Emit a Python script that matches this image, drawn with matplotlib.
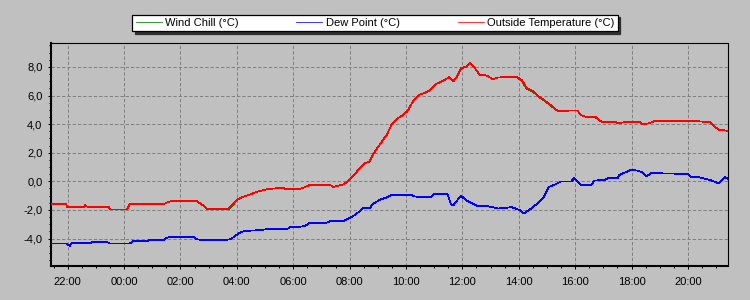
import matplotlib
matplotlib.use("Agg")
import matplotlib.pyplot as plt
from matplotlib.ticker import MultipleLocator, FixedLocator, FixedFormatter, FuncFormatter

plt.rcParams['font.family'] = ['Liberation Sans', 'DejaVu Sans']
plt.rcParams['font.size'] = 8

# ---- data (hours relative to midnight) ----
temp_t = [-2.62, -2.05, -2.03, -1.4, -1.38, -1.3, -0.55, -0.5, 0.1, 0.2, 1.4, 1.55, 1.75,
          2.55, 2.75, 2.95, 3.7, 3.9, 4.0, 4.23, 4.47, 4.7, 5.06, 5.3, 5.65, 5.75, 6.2, 6.36,
          6.59, 7.3, 7.42, 7.6, 7.76, 7.94, 8.12, 8.36, 8.54, 8.69, 8.84, 9.08, 9.32, 9.5,
          9.68, 9.86, 10.04, 10.28, 10.46, 10.69, 10.87, 11.05, 11.29, 11.53, 11.68, 11.83,
          11.95, 12.13, 12.28, 12.43, 12.61, 12.85, 13.09, 13.27, 13.51, 13.93, 14.1, 14.29,
          14.5, 14.71, 14.89, 15.13, 15.37, 15.6, 15.79, 16.08, 16.2, 16.38, 16.74, 16.86,
          16.98, 17.45, 17.51, 17.75, 18.29, 18.4, 18.64, 18.82, 20.25, 20.79, 20.9, 21.08,
          21.44, 21.5]
temp_v = [-1.6, -1.6, -1.78, -1.78, -1.68, -1.78, -1.78, -1.97, -1.97, -1.6, -1.6, -1.45, -1.36,
          -1.36, -1.6, -1.92, -1.92, -1.55, -1.3, -1.08, -0.92, -0.74, -0.56, -0.5, -0.47, -0.56, -0.56, -0.45,
          -0.24, -0.24, -0.4, -0.3, -0.23, 0.0, 0.35, 0.93, 1.28, 1.35, 1.9, 2.6, 3.26, 4.02,
          4.37, 4.6, 4.88, 5.7, 6.05, 6.2, 6.4, 6.8, 7.0, 7.28, 6.98, 7.4,
          7.9, 8.02, 8.26, 7.95, 7.44, 7.4, 7.14, 7.26, 7.28, 7.28, 7.09, 6.5,
          6.33, 5.93, 5.69, 5.33, 4.93, 4.9, 4.95, 4.95, 4.62, 4.52, 4.48, 4.26,
          4.14, 4.14, 4.05, 4.14, 4.14, 3.98, 4.07, 4.21, 4.21, 4.14, 3.9, 3.62,
          3.52, 3.52]

chill_t = list(temp_t)
chill_v = [-1.6, -1.6, -1.78, -1.78, -1.68, -1.78, -1.78, -1.97, -1.97, -1.6, -1.6, -1.45, -1.36,
           -1.36, -1.6, -1.92, -1.95, -1.55, -1.3, -1.08, -0.92, -0.74, -0.56, -0.5, -0.47, -0.56, -0.56, -0.45,
           -0.24, -0.24, -0.4, -0.3, -0.23, 0.0, 0.35, 0.93, 1.28, 1.35, 1.9, 2.6, 3.26, 4.02,
           4.37, 4.6, 4.88, 5.7, 6.05, 6.2, 6.4, 6.8, 7.0, 7.28, 6.98, 7.4,
           7.9, 8.02, 8.26, 7.95, 7.44, 7.4, 7.14, 7.26, 7.28, 7.28, 7.05, 6.45,
           6.28, 5.9, 5.66, 5.3, 4.93, 4.9, 4.95, 4.95, 4.62, 4.52, 4.45, 4.26,
           4.14, 4.14, 4.05, 4.14, 4.14, 3.98, 4.07, 4.21, 4.21, 4.14, 3.9, 3.62,
           3.52, 3.52]

dew_t = [-2.62, -2.05, -1.92, -1.85, -1.21, -1.1, -0.6, -0.5, 0.21, 0.3, 0.8, 0.9, 1.39, 1.51,
         1.6, 2.46, 2.6, 2.93, 3.5, 3.76, 3.9, 4.05, 4.25, 4.47, 4.75, 5.06, 5.77, 5.9, 6.12,
         6.4, 6.59, 7.18, 7.3, 7.76, 7.88, 8.12, 8.36, 8.48, 8.72, 8.84, 9.08, 9.32, 9.5,
         10.16, 10.28, 10.5, 10.9, 11.0, 11.47, 11.6, 11.68, 11.95, 12.13, 12.31, 12.55,
         12.91, 13.27, 13.75, 14.05, 14.18, 14.42, 14.65, 14.89, 15.07, 15.25, 15.49, 15.85,
         15.96, 16.08, 16.2, 16.56, 16.68, 17.04, 17.15, 17.51, 17.57, 17.99, 18.23, 18.4,
         18.52, 18.7, 20.01, 20.13, 20.37, 20.85, 21.08, 21.2, 21.32, 21.44, 21.5]
dew_v = [-4.35, -4.35, -4.5, -4.31, -4.31, -4.24, -4.24, -4.35, -4.35, -4.19, -4.19, -4.12, -4.12, -3.96,
         -3.89, -3.89, -4.07, -4.1, -4.12, -4.05, -3.89, -3.65, -3.48, -3.45, -3.42, -3.35, -3.35, -3.2, -3.19,
         -3.14, -2.9, -2.9, -2.8, -2.79, -2.67, -2.44, -2.09, -1.86, -1.86, -1.56, -1.28, -1.12, -0.93,
         -0.93, -1.05, -1.1, -1.1, -0.88, -0.88, -1.63, -1.67, -1.0, -1.33, -1.51, -1.74,
         -1.74, -1.9, -1.81, -2.02, -2.24, -1.93, -1.57, -1.1, -0.38, -0.26, -0.02, -0.02,
         0.21, -0.02, -0.26, -0.26, 0.05, 0.1, 0.21, 0.21, 0.45, 0.81, 0.74, 0.6,
         0.33, 0.57, 0.52, 0.29, 0.29, 0.05, -0.14, 0.1, 0.29, 0.14, 0.14]

x_ticks = [-2, 0, 2, 4, 6, 8, 10, 12, 14, 16, 18, 20]
x_labels = ['22:00', '00:00', '02:00', '04:00', '06:00', '08:00', '10:00', '12:00',
            '14:00', '16:00', '18:00', '20:00']
y_ticks = [-4, -2, 0, 2, 4, 6, 8]

# ---- figure ----
bg = '#c0c0c0'
fig = plt.figure(figsize=(7.5, 3.0), dpi=100, facecolor=bg)
ax = fig.add_axes([51 / 750, 1 - 266 / 300, (728.3 - 51) / 750, (266 - 43.3) / 300])
ax.set_facecolor(bg)

line_kw = dict(lw=0.55, antialiased=False)
l1, = ax.plot(chill_t, chill_v, color='#008000', label='Wind Chill (°C)', zorder=3, **line_kw)
l2, = ax.plot(dew_t, dew_v, color='#0000ff', label='Dew Point (°C)', zorder=4, **line_kw)
l3, = ax.plot(temp_t, temp_v, color='#ff0000', label='Outside Temperature (°C)', zorder=5, **line_kw)

ax.set_xlim(-2.59, 21.43)
ax.set_ylim(-5.92, 9.65)

ax.xaxis.set_major_locator(FixedLocator(x_ticks))
ax.xaxis.set_major_formatter(FixedFormatter(x_labels))
ax.xaxis.set_minor_locator(MultipleLocator(0.5))
ax.yaxis.set_major_locator(FixedLocator(y_ticks))
ax.yaxis.set_major_formatter(FuncFormatter(lambda v, p: f'{v:.1f}'.replace('.', ',')))
ax.yaxis.set_minor_locator(MultipleLocator(0.5))

ax.grid(True, which='major', color='#808080', lw=0.72, linestyle=(0, (3.3, 2.0)))
ax.set_axisbelow(True)

for s in ['left', 'bottom']:
    ax.spines[s].set_linewidth(1.5)
for s in ['top', 'right']:
    ax.spines[s].set_linewidth(0.8)
for s in ax.spines.values():
    s.set_color('black')

ax.tick_params(axis='both', which='major', length=2.2, width=0.72, color='black', labelsize=8)
ax.tick_params(axis='both', which='minor', length=1.6, width=0.72, color='black')
ax.tick_params(axis='x', which='major', pad=5.5)
ax.tick_params(axis='y', which='major', pad=4)

leg = fig.legend(handles=[l1, l2, l3], loc='center', ncol=3,
                 bbox_to_anchor=(375 / 750, 1 - 23 / 300),
                 fontsize=8, frameon=True, fancybox=False, framealpha=1,
                 facecolor='white', edgecolor='black', handlelength=2.34,
                 handletextpad=0.3, columnspacing=5.2, borderpad=0.3,
                 shadow={'color': '#303030', 'alpha': 1})
leg.get_frame().set_linewidth(0.9)

fig.savefig('out.png', dpi=100, facecolor=bg)
